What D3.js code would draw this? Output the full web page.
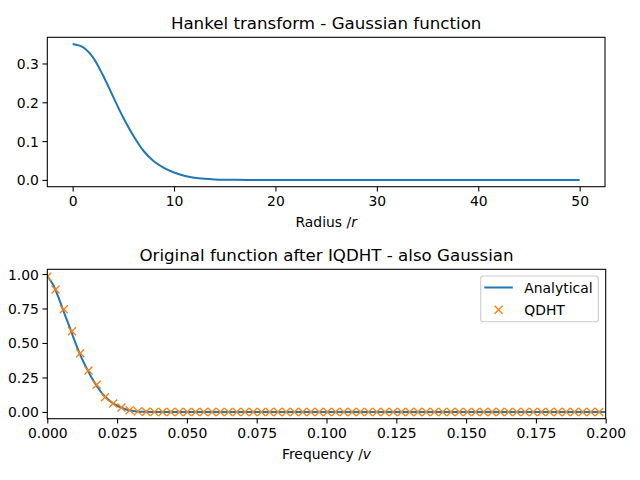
<!DOCTYPE html>
<html>
<head>
<meta charset="utf-8">
<script src="https://cdn.jsdelivr.net/npm/d3@7"></script>
<style>
  body { margin: 0; background: #fff; }
  text { font-family: "DejaVu Sans", sans-serif; fill: #000; }
</style>
</head>
<body>
<svg id="chart" width="640" height="480"></svg>
<script>
// ---- Data ----
const radius = [0, 1, 2, 3, 4, 5, 6, 7, 8, 9, 10, 11, 12, 13, 14, 15, 16, 18, 20, 30, 40, 50];
const hankelValues = [0.350, 0.342, 0.316, 0.269, 0.214, 0.160, 0.113, 0.0745, 0.048, 0.031, 0.019, 0.0105, 0.0055, 0.0027, 0.0011, 0.0004, 0.0001, 0, 0, 0, 0, 0];

const analyticalFreq = [0, 0.002, 0.004, 0.006, 0.008, 0.010, 0.012, 0.014, 0.016, 0.018, 0.020, 0.022, 0.024, 0.026, 0.028, 0.030, 0.032, 0.034, 0.036, 0.040, 0.100, 0.200];
const analyticalValues = [0.985, 0.925, 0.83, 0.72, 0.615, 0.505, 0.405, 0.32, 0.245, 0.18, 0.125, 0.087, 0.057, 0.036, 0.02, 0.01, 0.004, 0.0015, 0.0005, 0, 0, 0];

const qdhtFreq = [0, 0.00295, 0.0059, 0.00885, 0.0118, 0.01475, 0.0177, 0.02065, 0.0236, 0.02655,
  0.0295, 0.03245, 0.0354, 0.03835, 0.0413, 0.04425, 0.0472, 0.05015, 0.0531, 0.05605,
  0.059, 0.06195, 0.0649, 0.06785, 0.0708, 0.07375, 0.0767, 0.07965, 0.0826, 0.08555,
  0.0885, 0.09145, 0.0944, 0.09735, 0.1003, 0.10325, 0.1062, 0.10915, 0.1121, 0.11505,
  0.118, 0.12095, 0.1239, 0.12685, 0.1298, 0.13275, 0.1357, 0.13865, 0.1416, 0.14455,
  0.1475, 0.15045, 0.1534, 0.15635, 0.1593, 0.16225, 0.1652, 0.16815, 0.1711, 0.17405,
  0.177, 0.17995, 0.1829, 0.18585, 0.1888, 0.19175, 0.1947, 0.19765];
const qdhtValues = [0.98, 0.888, 0.745, 0.585, 0.425, 0.30, 0.197, 0.107, 0.061, 0.032,
  0.012, 0.004, 0.001, 0, 0, 0, 0, 0, 0, 0,
  0, 0, 0, 0, 0, 0, 0, 0, 0, 0,
  0, 0, 0, 0, 0, 0, 0, 0, 0, 0,
  0, 0, 0, 0, 0, 0, 0, 0, 0, 0,
  0, 0, 0, 0, 0, 0, 0, 0, 0, 0,
  0, 0, 0, 0, 0, 0, 0, 0];

const topXTicks = [0, 10, 20, 30, 40, 50];
const topYTicks = [0.0, 0.1, 0.2, 0.3];
const botXTicks = [0, 0.025, 0.05, 0.075, 0.1, 0.125, 0.15, 0.175, 0.2];
const botYTicks = [0, 0.25, 0.5, 0.75, 1.0];

const titles = ["Hankel transform - Gaussian function", "Original function after IQDHT - also Gaussian"];
const legendLabels = ["Analytical", "QDHT"];

// ---- Drawing ----
const svg = d3.select("#chart");
const C1 = "#1f77b4", C2 = "#ff7f0e";
const tickFont = 13.9;

function panel(box, xDomain, yDomain, xTicks, yTicks, xFmt, yFmt, title, xlabelParts, clipId) {
  const x = d3.scaleLinear().domain(xDomain).range([box.l, box.r]);
  const y = d3.scaleLinear().domain(yDomain).range([box.b, box.t]);
  const g = svg.append("g");

  svg.append("clipPath").attr("id", clipId)
    .append("rect").attr("x", box.l).attr("y", box.t)
    .attr("width", box.r - box.l).attr("height", box.b - box.t);

  const xa = g.append("g").attr("transform", `translate(0,${box.b})`)
    .call(d3.axisBottom(x).tickValues(xTicks).tickFormat(xFmt).tickSize(4.86).tickPadding(3.5));
  const ya = g.append("g").attr("transform", `translate(${box.l},0)`)
    .call(d3.axisLeft(y).tickValues(yTicks).tickFormat(yFmt).tickSize(4.86).tickPadding(3.5));
  [xa, ya].forEach(a => {
    a.select(".domain").remove();
    a.selectAll(".tick line").attr("stroke", "#000").attr("stroke-width", 1.07);
    a.selectAll(".tick text").style("font-family", "DejaVu Sans").style("font-size", tickFont + "px").attr("fill", "#000");
  });
  xa.selectAll(".tick text").attr("dy", "0.76em");
  ya.selectAll(".tick text").attr("dy", "0.36em");

  g.append("text").attr("x", (box.l + box.r) / 2).attr("y", box.t - 8.5)
    .attr("text-anchor", "middle").style("font-size", "16.67px").text(title);

  const xl = g.append("text").attr("x", (box.l + box.r) / 2).attr("y", box.b + 40)
    .attr("text-anchor", "middle").style("font-size", tickFont + "px");
  xl.append("tspan").text(xlabelParts[0]);
  xl.append("tspan").attr("font-style", "italic").text(xlabelParts[1]);

  return { x, y, g, box, clipId };
}

function frame(p) {
  const b = p.box;
  p.g.append("rect").attr("x", b.l).attr("y", b.t).attr("width", b.r - b.l).attr("height", b.b - b.t)
    .attr("fill", "none").attr("stroke", "#000").attr("stroke-width", 1.07);
}

// Top panel
const p1 = panel({ l: 47.3, r: 605, t: 37.3, b: 186.7 }, [-2.5, 52.5], [-0.0175, 0.3675],
  topXTicks, topYTicks, d3.format("d"), d3.format(".1f"), titles[0], ["Radius /", "r"], "clip1");
const line1 = d3.line().x((d, i) => p1.x(radius[i])).y((d, i) => p1.y(hankelValues[i])).curve(d3.curveCatmullRom.alpha(0.5));
p1.g.append("path").datum(radius).attr("d", line1).attr("fill", "none")
  .attr("stroke", C1).attr("stroke-width", 2).attr("clip-path", "url(#clip1)");
frame(p1);

// Bottom panel
const p2 = panel({ l: 47.3, r: 605.7, t: 269.3, b: 418.7 }, [0, 0.2], [-0.049, 1.034],
  botXTicks, botYTicks, d3.format(".3f"), d3.format(".2f"), titles[1], ["Frequency /", "v"], "clip2");
const line2 = d3.line().x((d, i) => p2.x(analyticalFreq[i])).y((d, i) => p2.y(analyticalValues[i])).curve(d3.curveCatmullRom.alpha(0.5));
p2.g.append("path").datum(analyticalFreq).attr("d", line2).attr("fill", "none")
  .attr("stroke", C1).attr("stroke-width", 2).attr("clip-path", "url(#clip2)");

const m = 4;
function cross(sel, cx, cy, s) {
  sel.append("path")
    .attr("d", `M${cx - s},${cy - s}L${cx + s},${cy + s}M${cx - s},${cy + s}L${cx + s},${cy - s}`)
    .attr("stroke", C2).attr("stroke-width", 1.33).attr("fill", "none");
}
const mk = p2.g.append("g").attr("clip-path", "url(#clip2)");
qdhtFreq.forEach((f, i) => cross(mk, p2.x(f), p2.y(qdhtValues[i]), m));
frame(p2);

// Legend
const lg = svg.append("g");
lg.append("rect").attr("x", 480.7).attr("y", 276).attr("width", 117.6).attr("height", 45.7)
  .attr("rx", 2.8).attr("fill", "#fff").attr("fill-opacity", 0.8)
  .attr("stroke", "#cccccc").attr("stroke-width", 1.07);
lg.append("line").attr("x1", 484.3).attr("x2", 512.8).attr("y1", 287.5).attr("y2", 287.5)
  .attr("stroke", C1).attr("stroke-width", 2);
lg.append("text").attr("x", 524.3).attr("y", 292.5).style("font-size", tickFont + "px").text(legendLabels[0]);
cross(lg, 498.6, 309.7, m);
lg.append("text").attr("x", 524.3).attr("y", 314.7).style("font-size", tickFont + "px").text(legendLabels[1]);
</script>
</body>
</html>
